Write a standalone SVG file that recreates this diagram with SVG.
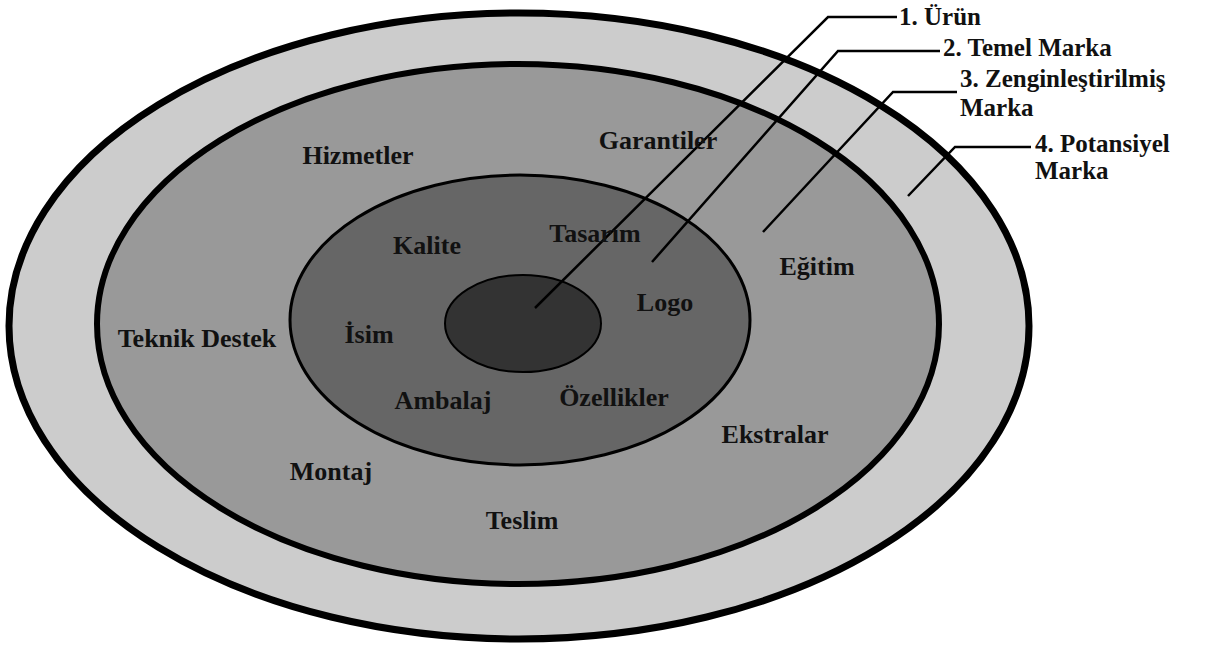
<svg xmlns="http://www.w3.org/2000/svg" width="1208" height="650" viewBox="0 0 1208 650">
<style>
.lbl{font-family:"Liberation Serif","Times New Roman",serif;font-weight:bold;font-size:26px;fill:#111;}
.leg{font-size:25px;}
.c{text-anchor:middle;}
.lead{fill:none;stroke:#000;stroke-width:2.5;}
</style>
<rect width="1208" height="650" fill="#fff"/>
<g id="potansiyel"><ellipse cx="519" cy="326" rx="510" ry="313" fill="#cccccc" stroke="#000" stroke-width="7"/></g>
<g id="zengin"><ellipse cx="518" cy="324" rx="421" ry="260" fill="#999999" stroke="#000" stroke-width="6"/></g>
<g id="temel"><ellipse cx="520" cy="320" rx="230" ry="145" fill="#666666" stroke="#000" stroke-width="3"/></g>
<g id="urun"><ellipse cx="523" cy="323.5" rx="78" ry="48.5" fill="#333333" stroke="#000" stroke-width="2"/></g>
<g id="connectors">
<polyline class="lead" points="535,308 828,17 897,17"/>
<polyline class="lead" points="652,262 838,51 940,51"/>
<polyline class="lead" points="763,232 893,92 957,92"/>
<polyline class="lead" points="908,196 955,147 1031,147"/>
</g>
<g id="labels">
<text class="lbl c" x="358" y="164">Hizmetler</text>
<text class="lbl c" x="658" y="149">Garantiler</text>
<text class="lbl c" x="427" y="254">Kalite</text>
<text class="lbl c" x="595" y="242">Tasarım</text>
<text class="lbl c" x="817" y="275">Eğitim</text>
<text class="lbl c" x="665" y="311">Logo</text>
<text class="lbl c" x="369" y="343">İsim</text>
<text class="lbl c" x="197" y="347">Teknik Destek</text>
<text class="lbl c" x="443" y="409">Ambalaj</text>
<text class="lbl c" x="614" y="406">Özellikler</text>
<text class="lbl c" x="775" y="443">Ekstralar</text>
<text class="lbl c" x="331" y="480">Montaj</text>
<text class="lbl c" x="522" y="529">Teslim</text>
</g>
<g id="legend">
<text class="lbl leg" x="899" y="25">1. Ürün</text>
<text class="lbl leg" x="943" y="56">2. Temel Marka</text>
<text class="lbl leg" x="960" y="87">3. Zenginleştirilmiş</text>
<text class="lbl leg" x="960" y="116">Marka</text>
<text class="lbl leg" x="1035" y="152">4. Potansiyel</text>
<text class="lbl leg" x="1035" y="179">Marka</text>
</g>
</svg>
